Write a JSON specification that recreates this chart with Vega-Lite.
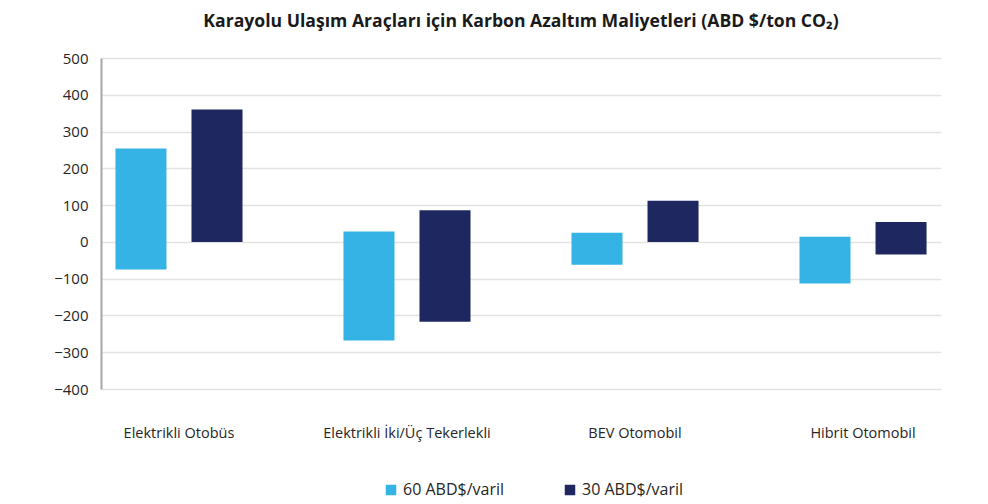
{
  "$schema": "https://vega.github.io/schema/vega-lite/v6.json",
  "width": 840,
  "height": 331,
  "autosize": {"type": "none"},
  "padding": {"left": 101, "top": 58, "right": 47, "bottom": 115},
  "background": "white",
  "title": {
    "text": "Karayolu Ulaşım Araçları için Karbon Azaltım Maliyetleri (ABD $/ton CO₂)",
    "font": "Liberation Sans Narrow, Open Sans",
    "fontSize": 17.6,
    "fontWeight": "bold",
    "color": "#1a1a1a",
    "anchor": "middle",
    "offset": 20
  },
  "data": {
    "values": [
      {"kategori": "Elektrikli Otobüs", "seri": "60 ABD$/varil", "alt": -75, "ust": 254},
      {"kategori": "Elektrikli Otobüs", "seri": "30 ABD$/varil", "alt": 0, "ust": 360},
      {"kategori": "Elektrikli İki/Üç Tekerlekli", "seri": "60 ABD$/varil", "alt": -268, "ust": 28},
      {"kategori": "Elektrikli İki/Üç Tekerlekli", "seri": "30 ABD$/varil", "alt": -217, "ust": 86},
      {"kategori": "BEV Otomobil", "seri": "60 ABD$/varil", "alt": -62, "ust": 25},
      {"kategori": "BEV Otomobil", "seri": "30 ABD$/varil", "alt": 0, "ust": 112},
      {"kategori": "Hibrit Otomobil", "seri": "60 ABD$/varil", "alt": -113, "ust": 14},
      {"kategori": "Hibrit Otomobil", "seri": "30 ABD$/varil", "alt": -34, "ust": 54}
    ]
  },
  "mark": {"type": "bar"},
  "encoding": {
    "x": {
      "field": "kategori",
      "type": "nominal",
      "sort": null,
      "scale": {"paddingInner": 0.316, "paddingOuter": 0},
      "axis": {
        "title": null,
        "labelAngle": 0,
        "domain": false,
        "ticks": false,
        "labelPadding": 37,
        "labelFont": "Open Sans",
        "labelFontSize": 14.5,
        "labelColor": "#262626"
      }
    },
    "xOffset": {
      "field": "seri",
      "type": "nominal",
      "sort": ["60 ABD$/varil", "30 ABD$/varil"],
      "scale": {"paddingInner": 0.329, "paddingOuter": 0.19}
    },
    "y": {
      "field": "alt",
      "type": "quantitative",
      "scale": {"domain": [-400, 500], "nice": false},
      "axis": {
        "title": null,
        "values": [-400, -300, -200, -100, 0, 100, 200, 300, 400, 500],
        "ticks": false,
        "domainColor": "#a6a6a6",
        "domainWidth": 2,
        "gridColor": "#e3e3e3",
        "gridWidth": 1.5,
        "labelPadding": 13,
        "labelFont": "Open Sans",
        "labelFontSize": 15,
        "labelColor": "#262626"
      }
    },
    "y2": {"field": "ust"},
    "color": {
      "field": "seri",
      "type": "nominal",
      "sort": ["60 ABD$/varil", "30 ABD$/varil"],
      "scale": {"domain": ["60 ABD$/varil", "30 ABD$/varil"], "range": ["#35b3e5", "#1e2760"]},
      "legend": {
        "title": null,
        "orient": "none",
        "legendX": 282,
        "legendY": 424,
        "direction": "horizontal",
        "symbolType": "square",
        "symbolSize": 110,
        "symbolStrokeWidth": 0,
        "labelFont": "Open Sans",
        "labelFontSize": 16,
        "labelColor": "#262626",
        "columnPadding": 57
      }
    }
  },
  "config": {
    "view": {"stroke": null}
  }
}
